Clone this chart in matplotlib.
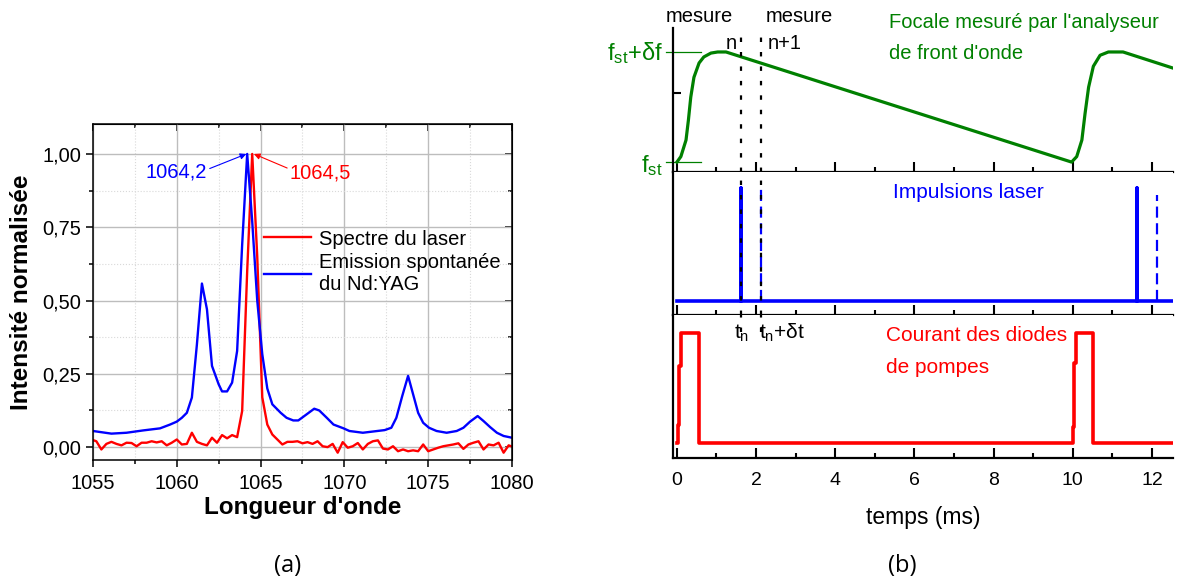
import matplotlib
matplotlib.use("Agg")
import matplotlib.pyplot as plt
from matplotlib.ticker import MultipleLocator, FixedLocator, NullLocator

plt.rcParams['font.family'] = ['Liberation Sans', 'DejaVu Sans']
plt.rcParams['mathtext.fontset'] = 'custom'
plt.rcParams['mathtext.rm'] = 'Liberation Sans'
plt.rcParams['mathtext.it'] = 'Liberation Sans:italic'
plt.rcParams['mathtext.default'] = 'regular'

# (a) spectra
laser_wl = [1054.9, 1055.2, 1055.5, 1055.8, 1056.1, 1056.4, 1056.7, 1057.0, 1057.3, 1057.6,
            1057.9, 1058.2, 1058.5, 1058.8, 1059.1, 1059.4, 1059.7, 1060.0, 1060.3, 1060.6,
            1060.9, 1061.2, 1061.5, 1061.8, 1062.1, 1062.4, 1062.7, 1063.0, 1063.3, 1063.6,
            1063.9, 1064.2, 1064.5, 1064.8, 1065.1, 1065.4, 1065.7, 1066.0, 1066.3, 1066.6,
            1066.9, 1067.2, 1067.5, 1067.8, 1068.1, 1068.4, 1068.7, 1069.0, 1069.3, 1069.6,
            1069.9, 1070.2, 1070.5, 1070.8, 1071.1, 1071.4, 1071.7, 1072.0, 1072.3, 1072.6,
            1072.9, 1073.2, 1073.5, 1073.8, 1074.1, 1074.4, 1074.7, 1075.0, 1075.3, 1075.6,
            1075.9, 1076.2, 1076.5, 1076.8, 1077.1, 1077.4, 1077.7, 1078.0, 1078.3, 1078.6,
            1078.9, 1079.2, 1079.5, 1079.8, 1080.1]
laser_int = [0.026, 0.02, -0.008, 0.011, 0.018, 0.011, 0.006, 0.015, 0.014, 0.003,
             0.015, 0.015, 0.02, 0.016, 0.02, 0.006, 0.015, 0.026, 0.009, 0.011,
             0.049, 0.018, 0.011, 0.006, 0.032, 0.015, 0.041, 0.03, 0.041, 0.034,
             0.123, 0.6, 1.0, 0.65, 0.17, 0.077, 0.043, 0.026, 0.009, 0.018,
             0.018, 0.02, 0.013, 0.017, 0.011, 0.02, 0.003, 0.0, 0.011, -0.019,
             0.017, -0.002, 0.003, 0.014, -0.008, 0.011, 0.02, 0.023, -0.005, -0.008,
             0.003, -0.014, -0.008, -0.014, -0.011, -0.014, 0.009, -0.014, -0.008, -0.002,
             0.003, 0.006, 0.009, 0.013, -0.006, 0.009, 0.015, 0.02, -0.008, 0.009,
             0.006, 0.015, -0.019, 0.006, 0.0]

yag_wl = [1055.0, 1056.1, 1057.0, 1058.0, 1059.0, 1059.6, 1060.0, 1060.3, 1060.6, 1060.9,
          1061.2, 1061.5, 1061.8, 1062.1, 1062.5, 1062.7, 1063.0, 1063.3, 1063.6, 1063.9,
          1064.2, 1064.5, 1064.8, 1065.1, 1065.4, 1065.7, 1066.2, 1066.55, 1066.95, 1067.25,
          1067.75, 1068.2, 1068.5, 1068.95, 1069.35, 1069.95, 1070.3, 1071.1, 1072.4, 1072.8,
          1073.1, 1073.45, 1073.8, 1074.1, 1074.4, 1074.7, 1075.05, 1075.5, 1076.1, 1076.7,
          1077.1, 1077.5, 1077.95, 1078.3, 1078.7, 1079.1, 1079.5, 1080.0]
yag_int = [0.055, 0.046, 0.049, 0.057, 0.064, 0.077, 0.087, 0.10, 0.117, 0.169,
           0.35, 0.558, 0.47, 0.277, 0.214, 0.19, 0.19, 0.22, 0.328, 0.69,
           1.0, 0.77, 0.50, 0.317, 0.20, 0.146, 0.117, 0.10, 0.091, 0.091,
           0.112, 0.131, 0.125, 0.10, 0.077, 0.064, 0.055, 0.049, 0.058, 0.066,
           0.10, 0.174, 0.243, 0.18, 0.117, 0.083, 0.066, 0.055, 0.049, 0.055,
           0.066, 0.087, 0.106, 0.089, 0.068, 0.049, 0.038, 0.032]

y_ticks = [0.0, 0.25, 0.5, 0.75, 1.0]
y_ticklabels = ["0,00", "0,25", "0,50", "0,75", "1,00"]

# (b) timing diagram
focal_t = [0.0, 0.1, 0.23, 0.29, 0.35, 0.43, 0.56, 0.68, 0.86, 1.03, 1.24,
           9.97, 10.1, 10.23, 10.31, 10.4, 10.52, 10.69, 10.9, 11.27, 12.52]
focal_f = [0.0, 0.05, 0.2, 0.38, 0.59, 0.77, 0.9, 0.955, 0.99, 1.0, 1.0,
           0.0, 0.05, 0.2, 0.44, 0.68, 0.87, 0.97, 1.0, 1.0, 0.855]

pulse_t = [0.0, 1.62, 1.62, 1.62, 11.62, 11.62, 11.62, 12.52]
pulse_a = [0.0, 0.0, 1.0, 0.0, 0.0, 1.0, 0.0, 0.0]
probe_t = [2.12, 12.12]
probe_a = [1.0, 0.94]

pump_t = [0.0, 0.02, 0.02, 0.05, 0.05, 0.1, 0.1, 0.55, 0.55,
          10.0, 10.0, 10.03, 10.03, 10.07, 10.07, 10.52, 10.52, 12.52]
pump_i = [0.0, 0.0, 0.16, 0.16, 0.7, 0.7, 1.0, 1.0, 0.0,
          0.0, 0.15, 0.15, 0.73, 0.73, 1.0, 1.0, 0.0, 0.0]

measure_t = [1.62, 2.12]

fig = plt.figure(figsize=(11.8, 5.84), dpi=100)

# ---------- panel (a)
ax = fig.add_axes([0.0788, 0.2123, 0.3551, 0.5753])
ax.plot(laser_wl, laser_int, color='#ff0000', lw=1.7, label='Spectre du laser')
ax.plot(yag_wl, yag_int, color='#0000ff', lw=1.7, label='Emission spontanée\ndu Nd:YAG')
ax.set_xlim(1055, 1080)
ax.set_ylim(-0.044, 1.102)
ax.xaxis.set_major_locator(MultipleLocator(5))
ax.xaxis.set_minor_locator(MultipleLocator(2.5))
ax.set_yticks(y_ticks)
ax.set_yticklabels(y_ticklabels)
ax.yaxis.set_minor_locator(MultipleLocator(0.125))
ax.grid(True, which='major', color='#bdbdbd', lw=1.0)
ax.grid(True, which='minor', color='#d9d9d9', lw=0.8, linestyle=':')
ax.set_axisbelow(True)
ax.tick_params(which='both', direction='out', labelsize=14.5, width=1.1, colors='black')
ax.tick_params(which='major', length=5)
ax.tick_params(which='minor', length=3)
ax.tick_params(axis='x', pad=5)
for s in ax.spines.values():
    s.set_linewidth(1.1)
sec_x = ax.secondary_xaxis('top')
sec_x.xaxis.set_major_locator(MultipleLocator(5))
sec_x.xaxis.set_minor_locator(MultipleLocator(2.5))
sec_x.tick_params(which='both', direction='in', labeltop=False, width=1.1)
sec_x.tick_params(which='major', length=5)
sec_x.tick_params(which='minor', length=3)
sec_y = ax.secondary_yaxis('right')
sec_y.set_yticks(y_ticks)
sec_y.yaxis.set_minor_locator(MultipleLocator(0.125))
sec_y.tick_params(which='both', direction='in', labelright=False, width=1.1)
sec_y.tick_params(which='major', length=5)
sec_y.tick_params(which='minor', length=3)
ax.set_xlabel("Longueur d'onde", fontsize=17.5, fontweight='bold', labelpad=2)
ax.set_ylabel("Intensité normalisée", fontsize=17.5, fontweight='bold', labelpad=7)

ax.annotate('1064,2', xy=(1064.15, 1.0), xytext=(1061.8, 0.94), ha='right', va='center',
            color='#0000ff', fontsize=14.5,
            arrowprops=dict(arrowstyle='-|>', color='#0000ff', lw=0.8, mutation_scale=9,
                            shrinkA=0, shrinkB=0, relpos=(1.0, 0.6)))
ax.annotate('1064,5', xy=(1064.6, 1.0), xytext=(1066.75, 0.935), ha='left', va='center',
            color='#ff0000', fontsize=14.5,
            arrowprops=dict(arrowstyle='-|>', color='#ff0000', lw=0.8, mutation_scale=9,
                            shrinkA=0, shrinkB=0, relpos=(0.0, 0.7)))
ax.legend(loc='upper left', bbox_to_anchor=(0.39, 0.71), frameon=False, fontsize=14.5,
          handlelength=2.3, handletextpad=0.4, labelspacing=0.2, borderaxespad=0)

fig.text(0.244, 0.031, '(a)', fontsize=17, family=['Open Sans', 'DejaVu Sans'], ha='center', va='center')

# ---------- panel (b)
ax_f = fig.add_axes([0.5703, 0.7055, 0.4237, 0.2466])
ax_l = fig.add_axes([0.5703, 0.4606, 0.4237, 0.2449])
ax_p = fig.add_axes([0.5703, 0.2158, 0.4237, 0.2449])

for a in (ax_f, ax_l, ax_p):
    a.set_xlim(-0.1, 12.53)
    a.spines['top'].set_visible(False)
    a.spines['right'].set_visible(False)
    a.spines['left'].set_linewidth(1.6)
    a.spines['bottom'].set_linewidth(1.6)
    a.xaxis.set_major_locator(MultipleLocator(2))
    a.xaxis.set_minor_locator(MultipleLocator(1))
    a.tick_params(axis='x', which='both', direction='in', width=1.5)
    a.tick_params(axis='x', which='major', length=7)
    a.tick_params(axis='x', which='minor', length=3.5)
    a.yaxis.set_major_locator(NullLocator())

ax_f.tick_params(axis='x', labelbottom=False)
ax_l.tick_params(axis='x', labelbottom=False)
ax_p.tick_params(axis='x', labelsize=14, pad=10)
ax_f.yaxis.set_major_locator(FixedLocator([0.63]))
ax_f.tick_params(axis='y', direction='in', length=6, width=1.5, labelleft=False)

ax_f.set_ylim(-0.09, 1.218)
ax_l.set_ylim(-0.124, 1.14)
ax_p.set_ylim(-0.136, 1.164)

green = '#008000'
ax_f.plot(focal_t, focal_f, color=green, lw=2.3, solid_joinstyle='round')
ax_f.plot([-0.28, 0.6], [1.0, 1.0], color=green, lw=0.9, clip_on=False)
ax_f.plot([-0.28, 0.6], [0.0, 0.0], color=green, lw=0.9, clip_on=False)
ax_f.text(-0.35, 0.99, r'f$_{st}$+δf', color=green, fontsize=17, ha='right', va='center')
ax_f.text(-0.35, -0.03, r'f$_{st}$', color=green, fontsize=17, ha='right', va='center')
ax_f.text(5.37, 1.27, "Focale mesuré par l'analyseur", color=green, fontsize=14.5, va='center')
ax_f.text(5.37, 0.99, "de front d'onde", color=green, fontsize=14.5, va='center')
ax_f.text(-0.28, 1.32, 'mesure', fontsize=14.5, va='center')
ax_f.text(1.23, 1.08, 'n', fontsize=14.5, va='center')
ax_f.text(2.24, 1.32, 'mesure', fontsize=14.5, va='center')
ax_f.text(2.29, 1.08, 'n+1', fontsize=14.5, va='center')

ax_l.plot(pulse_t, pulse_a, color='#0000ff', lw=2.6)
for t, a in zip(probe_t, probe_a):
    ax_l.plot([t, t], [0, a], color='#0000ff', lw=1.6, linestyle=(0, (5, 2.5)))
ax_l.text(5.47, 0.956, 'Impulsions laser', color='#0000ff', fontsize=15, va='center')

for t in measure_t:
    ax_f.axvline(t, color='black', lw=1.6, linestyle=(0, (2, 4.5)))
    ax_l.axvline(t, color='black', lw=1.6, linestyle=(0, (2, 4.5)))
    ax_p.axvline(t, ymin=0.88, ymax=1.0, color='black', lw=1.6, linestyle=(0, (2, 4.5)))

ax_p.plot(pump_t, pump_i, color='#ff0000', lw=2.6)
ax_p.text(1.44, 1.0, r't$_n$', fontsize=15, va='center')
ax_p.text(2.07, 1.0, r't$_n$+δt', fontsize=15, va='center')
ax_p.text(5.27, 0.98, 'Courant des diodes', color='#ff0000', fontsize=15, va='center')
ax_p.text(5.27, 0.69, 'de pompes', color='#ff0000', fontsize=15, va='center')
ax_p.set_xlabel('temps (ms)', fontsize=16.5, labelpad=12)

fig.text(0.765, 0.031, '(b)', fontsize=17, family=['Open Sans', 'DejaVu Sans'], ha='center', va='center')

fig.savefig('out.png', dpi=100)
